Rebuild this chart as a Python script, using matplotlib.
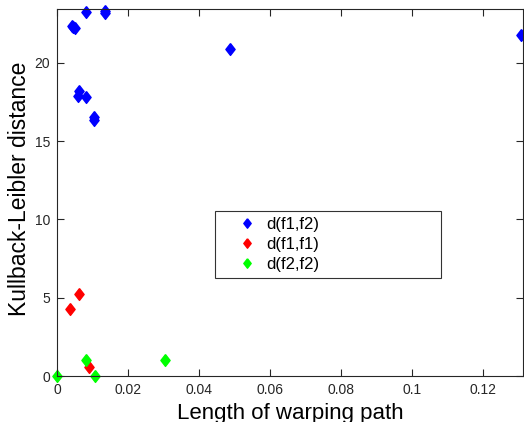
import matplotlib
matplotlib.use("Agg")
import matplotlib.pyplot as plt

plt.rcParams["font.family"] = ["Liberation Sans", "DejaVu Sans"]

# d(f1,f2)
x_f1f2 = [0.0041, 0.0045, 0.0051, 0.0082, 0.0136, 0.0136, 0.0062, 0.0060, 0.0083,
          0.0103, 0.0103, 0.0487, 0.1307]
y_f1f2 = [22.36, 22.3, 22.19, 23.23, 23.3, 23.15, 18.2, 17.9, 17.82,
          16.55, 16.34, 20.9, 21.8]
# d(f1,f1)
x_f1f1 = [0.0037, 0.0062, 0.0091]
y_f1f1 = [4.30, 5.23, 0.60]
# d(f2,f2)
x_f2f2 = [0.0, 0.0081, 0.0107, 0.0305]
y_f2f2 = [0.0, 1.02, 0.0, 1.02]

xticks = [0, 0.02, 0.04, 0.06, 0.08, 0.1, 0.12]
xticklabels = ["0", "0.02", "0.04", "0.06", "0.08", "0.1", "0.12"]
yticks = [0, 5, 10, 15, 20]

# matlab-ish diamond, a bit taller than wide
diamond = [(0, 1), (0.78, 0), (0, -1), (-0.78, 0), (0, 1)]

fig = plt.figure(figsize=(5.24, 4.22), dpi=100)
ax = fig.add_axes([0.1088, 0.109, 0.8892, 0.8697])

ms = 8.5
kw = dict(ls="none", marker=diamond, ms=ms, clip_on=False)
ax.plot(x_f1f2, y_f1f2, color="#0000ff", mec="#0000ff", label="d(f1,f2)", **kw)
ax.plot(x_f1f1, y_f1f1, color="#ff0000", mec="#ff0000", label="d(f1,f1)", **kw)
ax.plot(x_f2f2, y_f2f2, color="#00ff00", mec="#00ff00", label="d(f2,f2)", **kw)

ax.set_xlim(0, 0.1313)
ax.set_ylim(0, 23.43)
ax.set_xticks(xticks)
ax.set_xticklabels(xticklabels)
ax.set_yticks(yticks)
ax.tick_params(direction="in", top=True, right=True, length=5, labelsize=10,
               color="#262626", labelcolor="#262626", pad=5)
for s in ax.spines.values():
    s.set_color("#262626")
ax.set_xlabel("Length of warping path", fontsize=16, labelpad=4)
ax.set_ylabel("Kullback-Leibler distance", fontsize=16.5)
ax.yaxis.set_label_coords(-0.056, 0.511)

leg = ax.legend(loc="lower left", bbox_to_anchor=(0.4103, 0.342, 0.431, 0.156),
                bbox_transform=fig.transFigure, mode="expand", fontsize=12,
                frameon=True, fancybox=False, borderaxespad=0, labelspacing=0.3,
                handletextpad=-0.35, borderpad=0.35, handlelength=3.1, markerscale=0.8)
leg.get_frame().set_edgecolor("black")
leg.get_frame().set_linewidth(0.8)

fig.savefig("out.png", dpi=100)
